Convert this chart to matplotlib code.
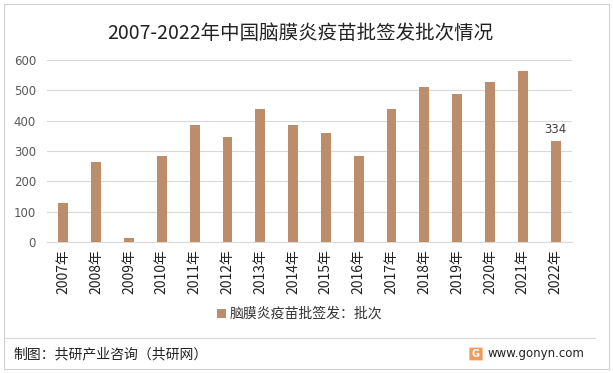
import matplotlib.pyplot as plt
from matplotlib.patches import FancyBboxPatch, Rectangle
from matplotlib.lines import Line2D

plt.rcParams['font.family'] = ['Noto Sans CJK SC', 'DejaVu Sans']

years = ['2007年', '2008年', '2009年', '2010年', '2011年', '2012年', '2013年', '2014年',
         '2015年', '2016年', '2017年', '2018年', '2019年', '2020年', '2021年', '2022年']
batches = [129, 264, 13, 284, 386, 347, 439, 386, 358, 285, 438, 511, 487, 527, 563, 334]
series_name = '脑膜炎疫苗批签发：批次'
title = '2007-2022年中国脑膜炎疫苗批签发批次情况'
source = '制图：共研产业咨询（共研网）'
site = 'www.gonyn.com'

bar_color = '#BB8D6B'
grey_text = '#595959'

fig = plt.figure(figsize=(6.13, 3.73), dpi=100)
fig.patch.set_facecolor('white')
ax = fig.add_axes([47 / 613, 1 - 242 / 373, 525 / 613, 182 / 373])

x = list(range(len(years)))
bars = ax.bar(x, batches, width=0.3, color=bar_color, label=series_name, zorder=3)
ax.text(x[-1], batches[-1] + 14, str(batches[-1]), ha='center', va='bottom',
        fontsize=8.5, color='#404040', family=['DejaVu Sans'])

ax.set_xlim(-0.5, len(years) - 0.5)
ax.set_ylim(0, 600)
ax.set_yticks(range(0, 601, 100))
ax.set_yticklabels([str(v) for v in range(0, 601, 100)], family=['DejaVu Sans'])
ax.yaxis.grid(True, color='#D9D9D9', linewidth=0.8, zorder=0)
ax.set_xticks(x)
ax.set_xticklabels(years, rotation=90, fontsize=10, color='#222222')
ax.tick_params(axis='y', length=0, labelsize=8.5, labelcolor=grey_text, pad=8)
ax.tick_params(axis='x', length=0, pad=5)
for s in ['top', 'right', 'left']:
    ax.spines[s].set_visible(False)
ax.spines['bottom'].set_color('#D9D9D9')
ax.set_facecolor('none')

fig.legend(handles=[bars], labels=[series_name], loc='center', bbox_to_anchor=(300 / 613, 1 - 314 / 373),
           frameon=False, fontsize=10, handlelength=0.6, handleheight=0.6, handletextpad=0.3,
           labelcolor='#333333')

fig.text(300 / 613, 1 - 33 / 373, title, ha='center', va='center', fontsize=14, color='#222222')

# outer frame and footer line
fig.add_artist(Rectangle((4 / 613, 4 / 373), 605 / 613, 365 / 373, transform=fig.transFigure,
                         fill=False, edgecolor='#D0D0D0', linewidth=0.8))
fig.add_artist(Line2D([4 / 613, 595 / 613], [1 - 338 / 373] * 2, transform=fig.transFigure,
                      color='#D9D9D9', linewidth=0.8))

fig.text(13 / 613, 1 - 354 / 373, source, ha='left', va='center', fontsize=10, color='#222222')
fig.text(488 / 613, 1 - 353 / 373, site, ha='left', va='center', fontsize=8.5, color='#222222',
         family=['DejaVu Sans'])
fig.add_artist(FancyBboxPatch((470 / 613, 1 - 360 / 373), 12 / 613, 12 / 373, transform=fig.transFigure,
                              boxstyle='round,pad=0.001', facecolor='#F29A5C', edgecolor='none'))
fig.text(476 / 613, 1 - 354 / 373, 'G', ha='center', va='center', fontsize=7, color='white',
         fontweight='bold', family=['DejaVu Sans'])

fig.savefig('out.png', dpi=100)
